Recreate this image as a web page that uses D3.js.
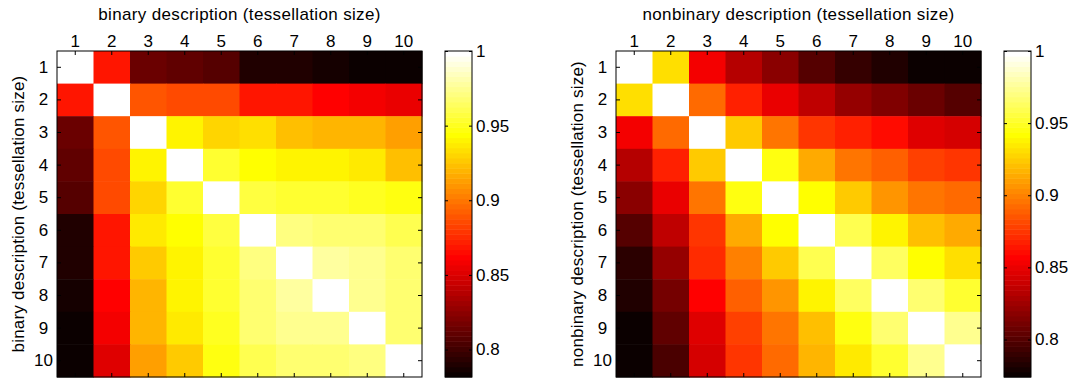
<!DOCTYPE html>
<html>
<head>
<meta charset="utf-8">
<script src="https://cdn.jsdelivr.net/npm/d3@7"></script>
<style>
  html, body { margin: 0; padding: 0; background: #fff; }
  svg { display: block; font-family: "Liberation Sans", Arial, sans-serif; }
</style>
</head>
<body>
<div id="chart"></div>
<script>
// tessellation sizes (rows and columns)
const sizes = [1, 2, 3, 4, 5, 6, 7, 8, 9, 10];

// binary description similarity matrix
const binaryValues = [
  [1.000, 0.867, 0.814, 0.810, 0.807, 0.790, 0.789, 0.787, 0.783, 0.782],
  [0.867, 1.000, 0.890, 0.885, 0.885, 0.870, 0.867, 0.863, 0.860, 0.854],
  [0.814, 0.890, 1.000, 0.939, 0.931, 0.934, 0.924, 0.919, 0.919, 0.912],
  [0.810, 0.887, 0.939, 1.000, 0.954, 0.944, 0.939, 0.939, 0.936, 0.924],
  [0.807, 0.887, 0.931, 0.954, 1.000, 0.957, 0.954, 0.954, 0.950, 0.947],
  [0.789, 0.869, 0.936, 0.944, 0.957, 1.000, 0.971, 0.967, 0.966, 0.962],
  [0.789, 0.867, 0.926, 0.939, 0.954, 0.971, 1.000, 0.978, 0.974, 0.967],
  [0.786, 0.863, 0.919, 0.939, 0.954, 0.966, 0.978, 1.000, 0.975, 0.966],
  [0.782, 0.860, 0.919, 0.936, 0.950, 0.966, 0.974, 0.975, 1.000, 0.969],
  [0.782, 0.852, 0.913, 0.926, 0.947, 0.962, 0.967, 0.969, 0.971, 1.000]
];

// nonbinary description similarity matrix
const nonbinaryValues = [
  [1.000, 0.930, 0.855, 0.833, 0.818, 0.800, 0.789, 0.783, 0.776, 0.775],
  [0.930, 1.000, 0.892, 0.868, 0.850, 0.836, 0.821, 0.815, 0.809, 0.799],
  [0.853, 0.892, 1.000, 0.923, 0.896, 0.874, 0.869, 0.860, 0.847, 0.842],
  [0.833, 0.868, 0.923, 1.000, 0.947, 0.913, 0.897, 0.890, 0.878, 0.876],
  [0.818, 0.850, 0.896, 0.947, 1.000, 0.942, 0.923, 0.906, 0.897, 0.893],
  [0.799, 0.836, 0.876, 0.913, 0.942, 1.000, 0.959, 0.938, 0.921, 0.915],
  [0.788, 0.821, 0.870, 0.899, 0.923, 0.959, 1.000, 0.963, 0.942, 0.932],
  [0.782, 0.812, 0.857, 0.890, 0.907, 0.937, 0.963, 1.000, 0.965, 0.951],
  [0.775, 0.805, 0.845, 0.878, 0.897, 0.921, 0.945, 0.968, 1.000, 0.974],
  [0.775, 0.797, 0.843, 0.876, 0.893, 0.917, 0.933, 0.951, 0.974, 1.000]
];

// colour limits and colorbar ticks
const binaryLimits = [0.7816, 1];
const nonbinaryLimits = [0.774, 1];
const colorbarTicks = [0.8, 0.85, 0.9, 0.95, 1];

const panels = [
  { title: 'binary description (tessellation size)', values: binaryValues, limits: binaryLimits, left: 57 },
  { title: 'nonbinary description (tessellation size)', values: nonbinaryValues, limits: nonbinaryLimits, left: 616 }
];

const W = 1074, H = 381;
const plotTop = 51, plotW = 365, plotH = 326;
const cbOffset = 388, cbW = 27;
const FONT = 17;

// MATLAB style "hot" colormap, 64 entries
function hotColors(m) {
  const n = Math.floor(3 / 8 * m);
  return d3.range(1, m + 1).map(k => {
    const r = Math.min(k / n, 1);
    const g = Math.max(0, Math.min((k - n) / n, 1));
    const b = Math.max(0, (k - 2 * n) / (m - 2 * n));
    return d3.rgb(r * 255, g * 255, b * 255).formatHex();
  });
}
const hot = hotColors(64);

const svg = d3.select('#chart').append('svg')
  .attr('width', W).attr('height', H)
  .style('font-size', FONT + 'px');

panels.forEach(p => {
  const g = svg.append('g').attr('transform', `translate(${p.left},${plotTop})`);
  const x = d3.scaleBand().domain(sizes).range([0, plotW]);
  const y = d3.scaleBand().domain(sizes).range([0, plotH]);
  const color = d3.scaleQuantize().domain(p.limits).range(hot);

  // cells
  const cells = [];
  p.values.forEach((row, i) => row.forEach((v, j) => cells.push({ r: sizes[i], c: sizes[j], v })));
  g.selectAll('rect.cell').data(cells).enter().append('rect')
    .attr('class', 'cell')
    .attr('x', d => x(d.c)).attr('y', d => y(d.r))
    .attr('width', x.bandwidth() + 0.5).attr('height', y.bandwidth() + 0.5)
    .attr('fill', d => color(d.v));

  // axes with inward ticks on all four sides
  const tl = 4;
  const axTop = d3.axisTop(x).tickSize(-tl);
  const axBottom = d3.axisBottom(x).tickSize(-tl).tickFormat('');
  const axLeft = d3.axisLeft(y).tickSize(-tl);
  const axRight = d3.axisRight(y).tickSize(-tl).tickFormat('');

  const gt = g.append('g').call(axTop);
  g.append('g').attr('transform', `translate(0,${plotH})`).call(axBottom);
  const gl = g.append('g').call(axLeft);
  g.append('g').attr('transform', `translate(${plotW},0)`).call(axRight);
  g.selectAll('.domain').remove();
  g.selectAll('.tick line').attr('stroke', '#000');
  g.selectAll('.tick text').attr('fill', '#000').style('font-size', FONT + 'px');
  gl.selectAll('.tick text').attr('text-anchor', 'middle').attr('x', -13.5);
  gt.selectAll('.tick text').attr('y', -4).attr('dy', 0);

  g.append('rect').attr('width', plotW).attr('height', plotH)
    .attr('fill', 'none').attr('stroke', '#000').attr('stroke-width', 1);

  // titles
  g.append('text').attr('x', plotW / 2).attr('y', -31)
    .attr('text-anchor', 'middle').style('font-size', FONT + 'px')
    .style('letter-spacing', '0.35px')
    .text(p.title);
  g.append('text')
    .attr('transform', `translate(-33,${plotH / 2}) rotate(-90)`)
    .attr('text-anchor', 'middle').style('font-size', FONT + 'px')
    .style('letter-spacing', '0.2px')
    .text(p.title);

  // colorbar
  const cb = svg.append('g').attr('transform', `translate(${p.left + cbOffset},${plotTop})`);
  const cy = d3.scaleLinear().domain(p.limits).range([plotH, 0]);
  const step = (p.limits[1] - p.limits[0]) / hot.length;
  cb.selectAll('rect.band').data(hot).enter().append('rect')
    .attr('class', 'band')
    .attr('x', 0).attr('width', cbW)
    .attr('y', (d, i) => cy(p.limits[0] + (i + 1) * step))
    .attr('height', (d, i) => cy(p.limits[0] + i * step) - cy(p.limits[0] + (i + 1) * step) + 0.5)
    .attr('fill', d => d);
  const cbAxis = d3.axisRight(cy).tickValues(colorbarTicks).tickFormat(d3.format('')).tickSize(-3).tickPadding(4);
  const gcb = cb.append('g').attr('transform', `translate(${cbW},0)`).call(cbAxis);
  cb.append('g').call(d3.axisLeft(cy).tickValues(colorbarTicks).tickSize(-3).tickFormat(''));
  cb.selectAll('.domain').remove();
  cb.selectAll('.tick line').attr('stroke', '#000');
  gcb.selectAll('.tick text').attr('fill', '#000').style('font-size', FONT + 'px');
  cb.append('rect').attr('width', cbW).attr('height', plotH)
    .attr('fill', 'none').attr('stroke', '#000').attr('stroke-width', 1);
});
</script>
</body>
</html>
